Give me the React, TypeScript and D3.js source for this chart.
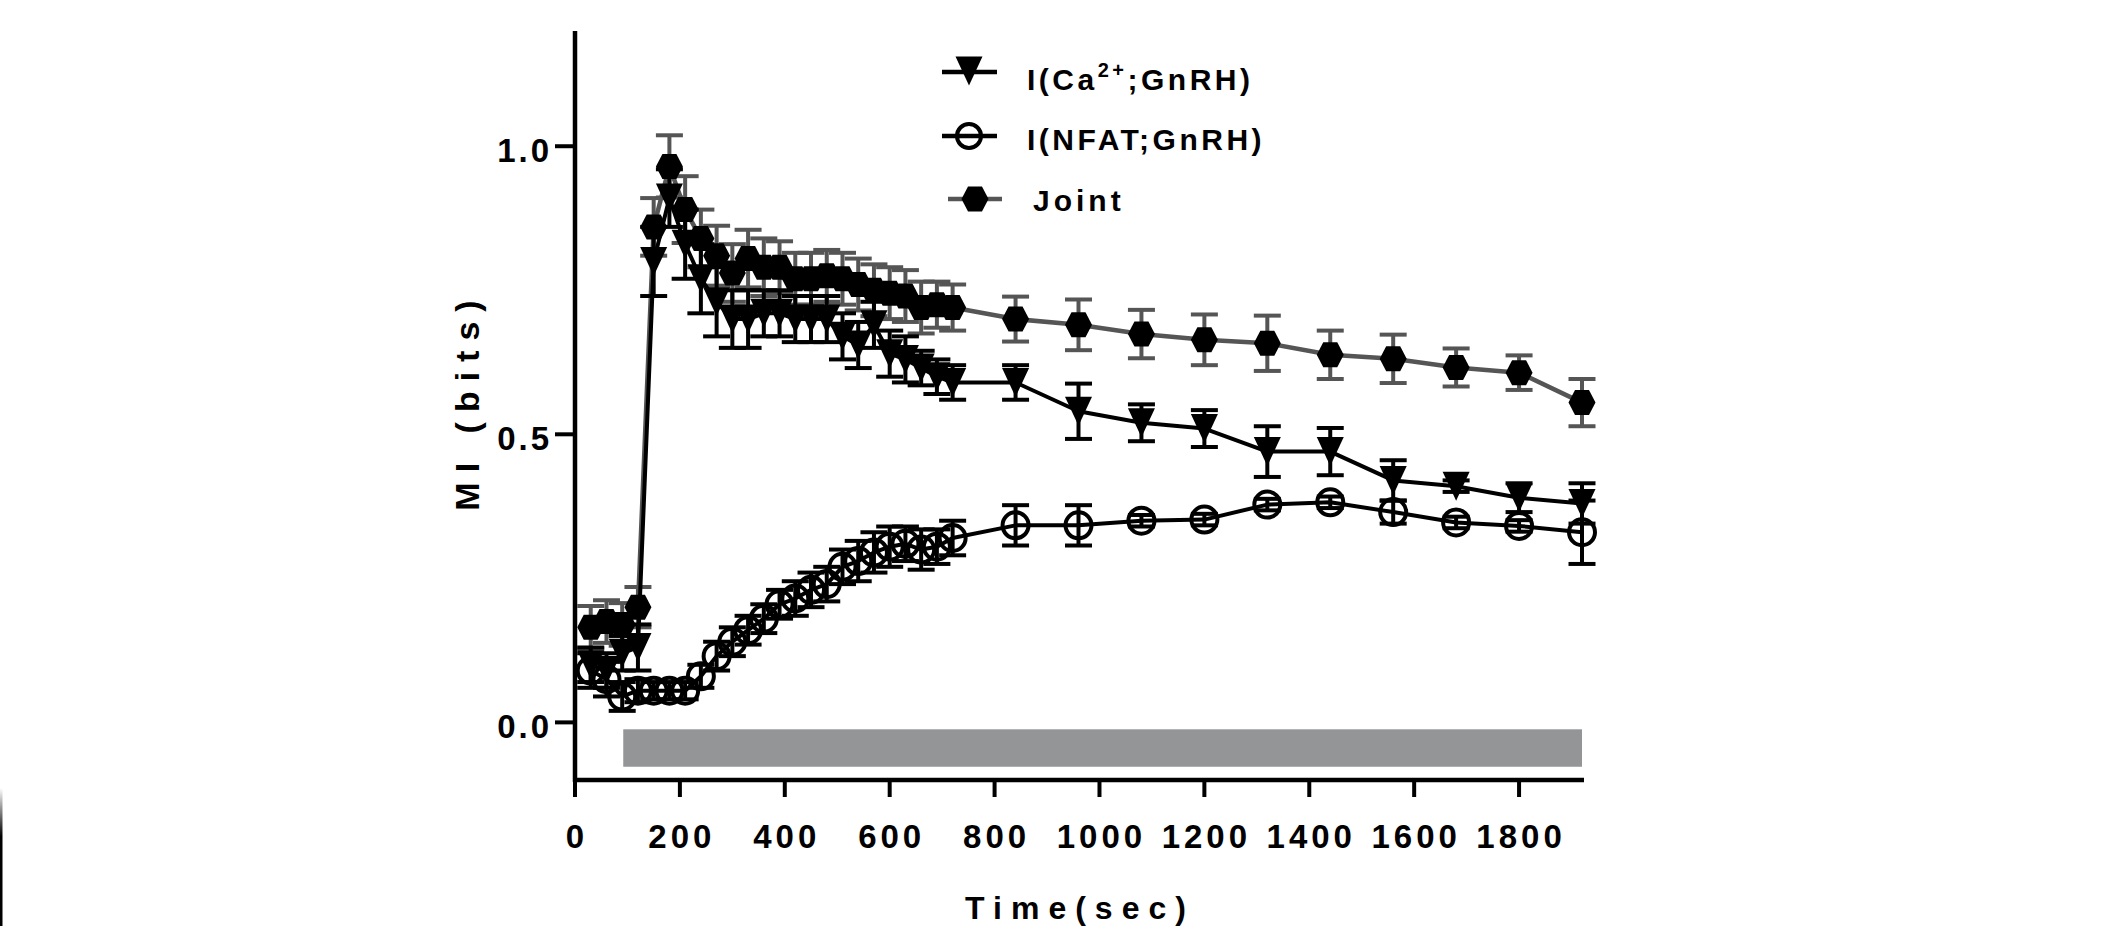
import React from 'react';
import * as d3 from 'd3';

// ---- data ----
const times = [30, 60, 90, 120, 150, 180, 210, 240, 270, 300, 330, 360, 390, 420, 450, 480, 510, 540, 570, 600, 630, 660, 690, 720,
  840, 960, 1080, 1200, 1320, 1440, 1560, 1680, 1800, 1920];

const caValues = [0.10, 0.09, 0.12, 0.13, 0.80, 0.91, 0.83, 0.77, 0.73, 0.70, 0.70, 0.71, 0.71, 0.70, 0.70, 0.70, 0.67, 0.655, 0.69, 0.64, 0.63, 0.615, 0.60, 0.59,
  0.59, 0.54, 0.52, 0.51, 0.47, 0.47, 0.42, 0.41, 0.39, 0.38];
const caErrors = [0.03, 0.03, 0.03, 0.04, 0.06, 0.05, 0.06, 0.06, 0.06, 0.05, 0.05, 0.04, 0.04, 0.04, 0.04, 0.04, 0.04, 0.04, 0.04, 0.04, 0.04, 0.03, 0.03, 0.03,
  0.03, 0.048, 0.032, 0.032, 0.044, 0.041, 0.035, 0.01, 0.025, 0.035];

const nfatValues = [0.09, 0.075, 0.045, 0.055, 0.055, 0.055, 0.055, 0.08, 0.115, 0.14, 0.16, 0.18, 0.205, 0.215, 0.23, 0.24, 0.27, 0.28, 0.295, 0.305, 0.31, 0.30, 0.305, 0.32,
  0.342, 0.342, 0.35, 0.352, 0.378, 0.382, 0.365, 0.347, 0.341, 0.33];
const nfatErrors = [0.03, 0.03, 0.025, 0.02, 0.015, 0.015, 0.015, 0.02, 0.025, 0.025, 0.025, 0.025, 0.025, 0.03, 0.03, 0.03, 0.03, 0.035, 0.035, 0.035, 0.03, 0.035, 0.03, 0.03,
  0.035, 0.035, 0.01, 0.01, 0.01, 0.01, 0.02, 0.01, 0.01, 0.055];

const jointValues = [0.165, 0.175, 0.17, 0.20, 0.86, 0.965, 0.89, 0.84, 0.81, 0.78, 0.805, 0.79, 0.79, 0.77, 0.77, 0.775, 0.77, 0.76, 0.75, 0.745, 0.74, 0.72, 0.725, 0.72,
  0.70, 0.69, 0.674, 0.664, 0.658, 0.638, 0.631, 0.616, 0.607, 0.555];
const jointErrors = [0.037, 0.037, 0.037, 0.035, 0.05, 0.054, 0.058, 0.05, 0.052, 0.05, 0.05, 0.05, 0.045, 0.045, 0.045, 0.045, 0.045, 0.045, 0.045, 0.045, 0.045, 0.045, 0.04, 0.04,
  0.039, 0.044, 0.042, 0.044, 0.048, 0.042, 0.042, 0.033, 0.03, 0.041];

const stimulusRange = [92, 1920];
const stimulusBand = [-0.077, -0.012];

const xTicks = [0, 200, 400, 600, 800, 1000, 1200, 1400, 1600, 1800];
const yTicks = [0.0, 0.5, 1.0];

const xDomain = [0, 1920];
const yDomain = [-0.1, 1.2];

const FONT = "'Liberation Sans', Arial, sans-serif";

type Pt = { t: number; v: number; e: number };

function makePts(vals: number[], errs: number[]): Pt[] {
  return times.map((t, i) => ({ t, v: vals[i], e: errs[i] }));
}

const triPath = (cx: number, cy: number) =>
  `M${cx - 13.5},${cy - 14.5}L${cx + 13.5},${cy - 14.5}L${cx},${cy + 14.5}Z`;
const hexPath = (cx: number, cy: number) =>
  `M${cx - 13.5},${cy}L${cx - 7},${cy - 12.5}L${cx + 7},${cy - 12.5}L${cx + 13.5},${cy}L${cx + 7},${cy + 12.5}L${cx - 7},${cy + 12.5}Z`;

export default function App() {
  const W = 2105, H = 926;
  const x = d3.scaleLinear().domain(xDomain).range([575, 1582]);
  const y = d3.scaleLinear().domain(yDomain).range([780, 31]);

  const line = d3.line<Pt>().x(d => x(d.t)).y(d => y(d.v));

  const ca = makePts(caValues, caErrors);
  const nfat = makePts(nfatValues, nfatErrors);
  const joint = makePts(jointValues, jointErrors);

  const errBars = (pts: Pt[], color: string) =>
    pts.map((d, i) => {
      const cx = x(d.t);
      const y1 = y(d.v + d.e), y2 = y(d.v - d.e);
      return (
        <g key={i} stroke={color} strokeWidth={4} fill="none">
          <line x1={cx} x2={cx} y1={y1} y2={y2} />
          <line x1={cx - 13.5} x2={cx + 13.5} y1={y1} y2={y1} />
          <line x1={cx - 13.5} x2={cx + 13.5} y1={y2} y2={y2} />
        </g>
      );
    });

  const axisY0 = 780;
  const axisX0 = 575;

  return (
    <svg width={W} height={H} style={{ position: 'absolute', left: 0, top: 0, display: 'block', background: '#fff' }}
      xmlns="http://www.w3.org/2000/svg">
      <defs>
        <linearGradient id="edge" x1="0" y1="0" x2="0" y2="1">
          <stop offset="0" stopColor="#000" stopOpacity={0} />
          <stop offset="0.35" stopColor="#000" stopOpacity={1} />
          <stop offset="1" stopColor="#000" stopOpacity={1} />
        </linearGradient>
      </defs>
      <rect x={0} y={0} width={W} height={H} fill="#fff" />
      {/* left edge artifact */}
      <rect x={0} y={788} width={2.5} height={H - 788} fill="url(#edge)" />

      {/* stimulus bar */}
      <rect x={x(stimulusRange[0])} y={y(stimulusBand[1])} width={x(stimulusRange[1]) - x(stimulusRange[0])}
        height={y(stimulusBand[0]) - y(stimulusBand[1])} fill="#939596" />

      {/* axes */}
      <line x1={axisX0} x2={axisX0} y1={y(yDomain[1])} y2={axisY0 + 2} stroke="#000" strokeWidth={4.5} />
      <line x1={axisX0 - 2} x2={x(xDomain[1]) + 2} y1={axisY0} y2={axisY0} stroke="#000" strokeWidth={4.5} />
      {xTicks.map(t => (
        <g key={t}>
          <line x1={x(t)} x2={x(t)} y1={axisY0} y2={axisY0 + 17} stroke="#000" strokeWidth={4} />
          <text x={x(t) + 2} y={848} textAnchor="middle" fontFamily={FONT} fontWeight="bold" fontSize={33}
            style={{ letterSpacing: '4px' }}>{String(t)}</text>
        </g>
      ))}
      {yTicks.map(v => (
        <g key={v}>
          <line x1={axisX0 - 20} x2={axisX0} y1={y(v)} y2={y(v)} stroke="#000" strokeWidth={4} />
          <text x={552} y={y(v) + 16} textAnchor="end" fontFamily={FONT} fontWeight="bold" fontSize={33}
            style={{ letterSpacing: '3px' }}>{v.toFixed(1)}</text>
        </g>
      ))}

      {/* axis titles */}
      <text x={1080} y={919} textAnchor="middle" fontFamily={FONT} fontWeight="bold" fontSize={32}
        style={{ letterSpacing: '9px' }}>Time(sec)</text>
      <text transform={`translate(479,${(y(yDomain[1]) + axisY0) / 2 - 5}) rotate(-90)`} textAnchor="middle"
        fontFamily={FONT} fontWeight="bold" fontSize={34} style={{ letterSpacing: '10px' }}>MI (bits)</text>

      {/* Joint series */}
      <g>
        {errBars(joint, '#555555')}
        <path d={line(joint) || ''} fill="none" stroke="#555555" strokeWidth={4.5} strokeLinejoin="round" />
        {joint.map((d, i) => <path key={i} d={hexPath(x(d.t), y(d.v))} fill="#000" />)}
      </g>

      {/* Ca series */}
      <g>
        {errBars(ca, '#000')}
        <path d={line(ca) || ''} fill="none" stroke="#000" strokeWidth={4} strokeLinejoin="round" />
        {ca.map((d, i) => <path key={i} d={triPath(x(d.t), y(d.v))} fill="#000" />)}
      </g>

      {/* NFAT series */}
      <g>
        {errBars(nfat, '#000')}
        <path d={line(nfat) || ''} fill="none" stroke="#000" strokeWidth={4} strokeLinejoin="round" />
        {nfat.map((d, i) => <circle key={i} cx={x(d.t)} cy={y(d.v)} r={13} fill="none" stroke="#000" strokeWidth={4} />)}
      </g>

      {/* legend */}
      <g fontFamily={FONT} fontWeight="bold" fontSize={30}>
        <line x1={942} x2={997} y1={72} y2={72} stroke="#000" strokeWidth={4.5} />
        <path d={triPath(969, 71)} fill="#000" />
        <text x={1027} y={90} style={{ letterSpacing: '3.5px' }}>
          I(Ca<tspan fontSize={20} dy={-13}>2+</tspan><tspan dy={13}>;GnRH)</tspan>
        </text>

        <line x1={942} x2={997} y1={136} y2={136} stroke="#000" strokeWidth={4.5} />
        <circle cx={969} cy={136} r={12} fill="none" stroke="#000" strokeWidth={4} />
        <text x={1027} y={150} style={{ letterSpacing: '3.5px' }}>I(NFAT;GnRH)</text>

        <line x1={948} x2={1002} y1={199} y2={199} stroke="#555555" strokeWidth={4.5} />
        <path d={hexPath(975, 199)} fill="#000" />
        <text x={1033} y={211} style={{ letterSpacing: '4px' }}>Joint</text>
      </g>
    </svg>
  );
}
